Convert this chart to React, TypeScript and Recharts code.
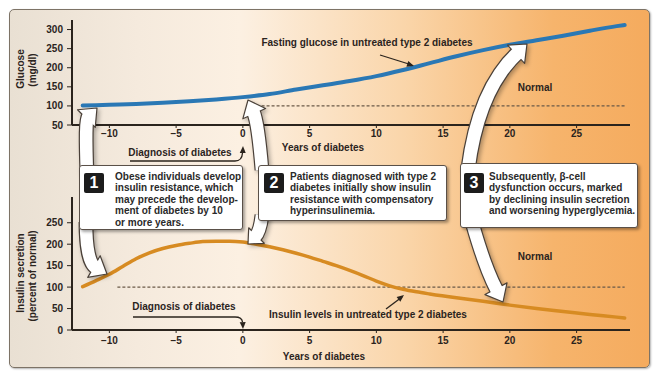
import React from 'react';
import { LineChart, Line, XAxis, YAxis, ReferenceLine } from 'recharts';

// years since diagnosis
const glucoseYears = [-12, -10, -8, -6, -4, -2, 0, 2, 4, 6, 8, 10, 12, 14, 16, 18, 20, 22, 24, 26, 28, 28.6];
const glucoseValues = [101, 103, 105, 108, 112, 117, 123, 131, 143, 154, 165, 178, 194, 212, 230, 246, 260, 272, 284, 297, 309, 312];

const insulinYears = [-12, -11, -10, -9, -8, -7, -6, -5, -4, -3, -2, -1, 0, 1, 2, 3, 4, 5, 6, 7, 8, 9, 10, 11, 12, 13, 14, 16, 18, 20, 22, 24, 26, 28, 28.6];
const insulinValues = [101, 115, 130, 148, 166, 180, 190, 197, 202, 206, 207, 207, 205, 200, 194, 187, 179, 170, 160, 150, 139, 127, 114, 103, 95, 89, 84, 75, 67, 58, 50, 43, 36, 30, 28];

const yearTicks = [-10, -5, 0, 5, 10, 15, 20, 25];
const glucoseTicks = [50, 100, 150, 200, 250, 300];
const insulinTicks = [0, 50, 100, 150, 200, 250];
const yearDomain = [-12.8, 29];
const normalLevel = 100;

const note1 = ['Obese individuals develop', 'insulin resistance, which', 'may precede the develop-', 'ment of diabetes by 10', 'or more years.'];
const note2 = ['Patients diagnosed with type 2', 'diabetes initially show insulin', 'resistance with compensatory', 'hyperinsulinemia.'];
const note3 = ['Subsequently, \u03b2-cell', 'dysfunction occurs, marked', 'by declining insulin secretion', 'and worsening hyperglycemia.'];

const glucoseData = glucoseYears.map((year, i) => ({ year, value: glucoseValues[i] }));
const insulinData = insulinYears.map((year, i) => ({ year, value: insulinValues[i] }));

const INK = '#2b241d';
const FONT = '"Liberation Sans", Arial, sans-serif';
const tickStyle = { fill: INK, fontSize: 10, fontWeight: 700 };
const fmt = (v: number) => (v < 0 ? '\u2212' + Math.abs(v) : String(v));

function FatArrow({ s, c, t, head = 15, spread = 12.5, w = 12.5 }: any) {
  const dx = t[0] - c[0];
  const dy = t[1] - c[1];
  const L = Math.hypot(dx, dy);
  const ux = dx / L;
  const uy = dy / L;
  const bx = t[0] - ux * head;
  const by = t[1] - uy * head;
  const px = -uy;
  const py = ux;
  const pts = `${t[0]},${t[1]} ${bx + px * spread},${by + py * spread} ${bx - px * spread},${by - py * spread}`;
  const d = `M${s[0]},${s[1]} Q${c[0]},${c[1]} ${bx + ux * 2},${by + uy * 2}`;
  return (
    <g>
      <path d={d} fill="none" stroke="#4a4038" strokeWidth={w + 2.4} />
      <polygon points={pts} fill="#fff" stroke="#4a4038" strokeWidth={1.2} strokeLinejoin="round" />
      <path d={d} fill="none" stroke="#fff" strokeWidth={w} />
    </g>
  );
}

function SmallArrow({ d, tip, from }: any) {
  const dx = tip[0] - from[0];
  const dy = tip[1] - from[1];
  const L = Math.hypot(dx, dy);
  const ux = dx / L;
  const uy = dy / L;
  const bx = tip[0] - ux * 7;
  const by = tip[1] - uy * 7;
  const pts = `${tip[0]},${tip[1]} ${bx - uy * 3},${by + ux * 3} ${bx + uy * 3},${by - ux * 3}`;
  return (
    <g>
      <path d={d} fill="none" stroke={INK} strokeWidth={1.3} />
      <polygon points={pts} fill={INK} />
    </g>
  );
}

function Note({ left, top, width, height, lines, num, textLeft, textTop, badge }: any) {
  return (
    <div
      style={{
        position: 'absolute', left, top, width, height, background: '#fff',
        border: '1px solid #5a5048', borderRadius: 3, boxSizing: 'border-box',
        boxShadow: '2px 2px 3px rgba(0,0,0,0.35)',
      }}
    >
      <div
        style={{
          position: 'absolute', left: badge[0], top: badge[1], width: 20, height: 20,
          background: '#1c1c1c', borderRadius: 2, color: '#fff', fontWeight: 700,
          fontSize: 16, lineHeight: '20px', textAlign: 'center',
        }}
      >
        {num}
      </div>
      <div
        style={{
          position: 'absolute', left: textLeft, top: textTop, fontSize: 10, fontWeight: 700,
          lineHeight: '11.4px', color: '#2a2a2a', whiteSpace: 'nowrap',
        }}
      >
        {lines.map((l: string) => (
          <div key={l}>{l}</div>
        ))}
      </div>
    </div>
  );
}

export default function App() {
  return (
    <div style={{ position: 'absolute', left: 0, top: 0, width: 659, height: 385, background: '#fff', fontFamily: FONT }}>
      <div
        style={{
          position: 'absolute', left: 9, top: 9, width: 641, height: 359, boxSizing: 'border-box',
          border: '1px solid #7d7366', borderRadius: 5,
          background: 'linear-gradient(90deg, #e9e0d3 0%, #f5eadd 20%, #fcf0e2 36%, #fad5a9 62%, #f6b46c 85%, #f5ab5e 100%)',
          boxShadow: '1px 1px 2px rgba(0,0,0,0.3)',
        }}
      />

      <div style={{ position: 'absolute', left: 0, top: 0 }}>
        <LineChart width={659} height={150} data={glucoseData} margin={{ top: 20, right: 29, bottom: 5, left: 32 }}>
          <XAxis
            dataKey="year" type="number" domain={yearDomain} ticks={yearTicks} tickFormatter={fmt}
            height={20} tickSize={3} tickMargin={2} tick={tickStyle}
            axisLine={{ stroke: INK, strokeWidth: 2 }} tickLine={{ stroke: INK }} allowDataOverflow
          />
          <YAxis
            type="number" domain={[50, 325]} ticks={glucoseTicks} width={40} tickSize={5} tickMargin={4}
            tick={tickStyle} axisLine={{ stroke: INK, strokeWidth: 2 }} tickLine={{ stroke: INK }} allowDataOverflow
          />
          <ReferenceLine
            segment={[{ x: 1.4, y: normalLevel }, { x: 28.6, y: normalLevel }]}
            stroke="#6b5a48" strokeWidth={1.2} strokeDasharray="3 2"
          />
          <Line
            dataKey="value" type="monotone" stroke="#2a78b5" strokeWidth={4} dot={false}
            strokeLinecap="round" isAnimationActive={false}
          />
        </LineChart>
      </div>

      <div style={{ position: 'absolute', left: 0, top: 150 }}>
        <LineChart width={659} height={235} data={insulinData} margin={{ top: 47, right: 29, bottom: 35, left: 32 }}>
          <XAxis
            dataKey="year" type="number" domain={yearDomain} ticks={yearTicks} tickFormatter={fmt}
            height={20} tickSize={3} tickMargin={4} tick={tickStyle}
            axisLine={{ stroke: INK, strokeWidth: 2 }} tickLine={{ stroke: INK }} allowDataOverflow
          />
          <YAxis
            type="number" domain={[0, 310]} ticks={insulinTicks} width={40} tickSize={5} tickMargin={4}
            tick={tickStyle} axisLine={{ stroke: INK, strokeWidth: 2 }} tickLine={{ stroke: INK }} allowDataOverflow
          />
          <ReferenceLine
            segment={[{ x: -9.4, y: normalLevel }, { x: 28.6, y: normalLevel }]}
            stroke="#6b5a48" strokeWidth={1.2} strokeDasharray="3 2"
          />
          <Line
            dataKey="value" type="monotone" stroke="#d78b22" strokeWidth={3.5} dot={false}
            strokeLinecap="round" isAnimationActive={false}
          />
        </LineChart>
      </div>

      <svg width={659} height={385} style={{ position: 'absolute', left: 0, top: 0, overflow: 'visible' }}>
        <g fontWeight={700} fontSize={10} fill={INK}>
          <text transform="translate(21,69) rotate(-90)" textAnchor="middle" dominantBaseline="middle">Glucose</text>
          <text transform="translate(33,70) rotate(-90)" textAnchor="middle" dominantBaseline="middle">(mg/dl)</text>
          <text transform="translate(21,273) rotate(-90)" textAnchor="middle" dominantBaseline="middle">Insulin secretion</text>
          <text transform="translate(33,276) rotate(-90)" textAnchor="middle" dominantBaseline="middle">(percent of normal)</text>
          <text x={367} y={43} textAnchor="middle" dominantBaseline="middle">Fasting glucose in untreated type 2 diabetes</text>
          <text x={535} y={88} textAnchor="middle" dominantBaseline="middle">Normal</text>
          <text x={535} y={257} textAnchor="middle" dominantBaseline="middle">Normal</text>
          <text x={180} y={153} textAnchor="middle" dominantBaseline="middle">Diagnosis of diabetes</text>
          <text x={323} y={148} textAnchor="middle" dominantBaseline="middle">Years of diabetes</text>
          <text x={184} y={307} textAnchor="middle" dominantBaseline="middle">Diagnosis of diabetes</text>
          <text x={368} y={315} textAnchor="middle" dominantBaseline="middle">Insulin levels in untreated type 2 diabetes</text>
          <text x={324} y={357} textAnchor="middle" dominantBaseline="middle">Years of diabetes</text>
        </g>
        <SmallArrow d="M380,55 L412,65" from={[380, 55]} tip={[414, 66]} />
        <SmallArrow d="M386,309 L402,297" from={[386, 309]} tip={[404, 295]} />
        <SmallArrow d="M130,161 L235,161 Q242,161 242.5,153" from={[242.5, 160]} tip={[243, 146]} />
        <SmallArrow d="M133,317 L235,317 Q242,317 242.5,322" from={[242.5, 317]} tip={[243, 329]} />

        <g style={{ filter: 'drop-shadow(2px 2px 2px rgba(0,0,0,0.3))' }}>
          <FatArrow s={[87, 175]} c={[85, 120]} t={[97, 108]} />
          <FatArrow s={[86, 222]} c={[86, 262]} t={[107, 274]} />
          <FatArrow s={[262, 170]} c={[258, 122]} t={[248, 100]} />
          <FatArrow s={[262, 215]} c={[260, 232]} t={[248, 244]} head={12} spread={11} />
          <FatArrow s={[468, 170]} c={[478, 90]} t={[527, 44]} w={13} />
          <FatArrow s={[472, 222]} c={[485, 268]} t={[503, 302]} />
        </g>
      </svg>

      <Note left={79} top={165} width={164} height={65} lines={note1} num="1" textLeft={35} textTop={5} badge={[4, 7]} />
      <Note left={258} top={165} width={189} height={56} lines={note2} num="2" textLeft={31} textTop={5} badge={[5, 7]} />
      <Note left={460} top={163} width={178} height={65} lines={note3} num="3" textLeft={28} textTop={7} badge={[3, 9]} />
    </div>
  );
}
